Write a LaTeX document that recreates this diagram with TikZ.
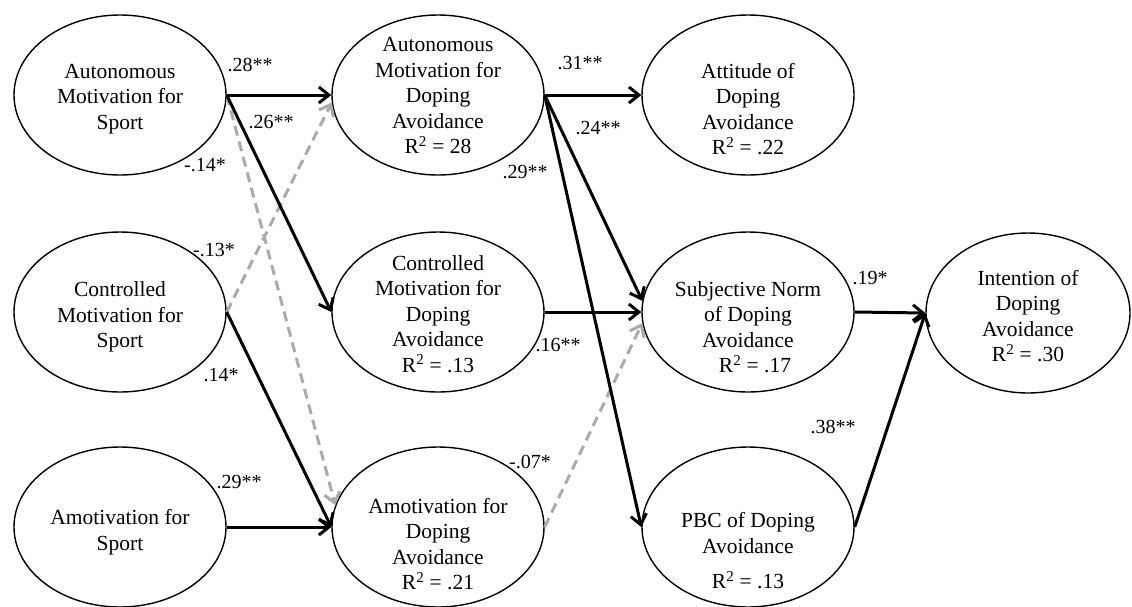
\documentclass[tikz,border=0pt]{standalone}
\usepackage{fontspec}
\setmainfont{Liberation Serif}
\usetikzlibrary{shapes.geometric,arrows.meta}
\begin{document}
\begin{tikzpicture}[x=1pt,y=-1pt,
 ell/.style={draw,ellipse,line width=1.4pt,minimum width=212pt,minimum height=160pt,inner sep=0pt},
 txt/.style={align=center,font=\fontsize{21.5}{25.5}\selectfont,inner sep=0pt},
 lab/.style={font=\fontsize{20}{21}\selectfont,inner sep=0pt},
 arr/.style={line width=3pt,-{Straight Barb[length=10pt,width=16pt]}},
 darr/.style={line width=3pt,draw=black!33,dash pattern=on 10pt off 6pt,-{Straight Barb[length=10pt,width=16pt]}},
]
\useasboundingbox (0,0) rectangle (1132,606);
% ellipses
\node[ell] (a1) at (120,95) {};
\node[ell] (a2) at (120,312) {};
\node[ell] (a3) at (120,527) {};
\node[ell] (a4) at (438,95) {};
\node[ell] (a5) at (438,312) {};
\node[ell] (a6) at (438,527) {};
\node[ell] (a7) at (748,95) {};
\node[ell] (a8) at (748,312) {};
\node[ell] (a9) at (748,527) {};
\node[ell,minimum width=204pt] (a10) at (1028,313) {};
% texts
\node[txt] (t1) at (120,99) {Autonomous\\Motivation for\\Sport};
\node[txt] (t2) at (120,317) {Controlled\\Motivation for\\Sport};
\node[txt] (t3) at (120,532) {Amotivation for\\Sport};
\node[txt] (t4) at (438,96) {Autonomous\\Motivation for\\Doping\\Avoidance\\R\textsuperscript{2} = 28};
\node[txt] (t5) at (438,314) {Controlled\\Motivation for\\Doping\\Avoidance\\R\textsuperscript{2} = .13};
\node[txt] (t6) at (438,544) {Amotivation for\\Doping\\Avoidance\\R\textsuperscript{2} = .21};
\node[txt] (t7) at (748,109) {Attitude of\\Doping\\Avoidance\\R\textsuperscript{2} = .22};
\node[txt] (t8) at (748,327) {Subjective Norm\\of Doping\\Avoidance\\\hspace*{14pt}R\textsuperscript{2} = .17};
\node[txt] (t9) at (748,551) {PBC of Doping\\Avoidance\\[10pt]R\textsuperscript{2} = .13};
\node[txt] (t10) at (1028,316) {Intention of\\Doping\\Avoidance\\R\textsuperscript{2} = .30};
% dashed paths
\draw[darr] (a1.east) -- (a6.168);
\draw[darr] (a2.east) -- (a4.184);
\draw[darr] (a6.east) -- (a8.186);
% solid paths
\draw[arr] (a1.east) -- (a4.west);
\draw[arr] (a1.east) -- (a5.west);
\draw[arr] (a2.east) -- (a6.west);
\draw[arr] (a3.east) -- (a6.west);
\draw[arr] (a4.east) -- (a7.west);
\draw[arr] (a4.east) -- (a8.174);
\draw[arr] (a4.east) -- (a9.west);
\draw[arr] (a5.east) -- (a8.west);
\draw[arr] (a8.east) -- (a10.west);
\draw[arr] (a9.east) -- (a10.west);
% labels
\node[lab] (l1) at (250,65) {.28**};
\node[lab] (l2) at (271,122) {.26**};
\node[lab] (l3) at (205,165) {-.14*};
\node[lab] (l4) at (214,250) {-.13*};
\node[lab] (l5) at (221,375) {.14*};
\node[lab] (l6) at (239,482) {.29**};
\node[lab] (l7) at (580,63) {.31**};
\node[lab] (l8) at (598,128) {.24**};
\node[lab] (l9) at (525,172) {.29**};
\node[lab] (l10) at (558,345) {.16**};
\node[lab] (l11) at (530,462) {-.07*};
\node[lab] (l12) at (870,278) {.19*};
\node[lab] (l13) at (833,427) {.38**};
\end{tikzpicture}
\end{document}
